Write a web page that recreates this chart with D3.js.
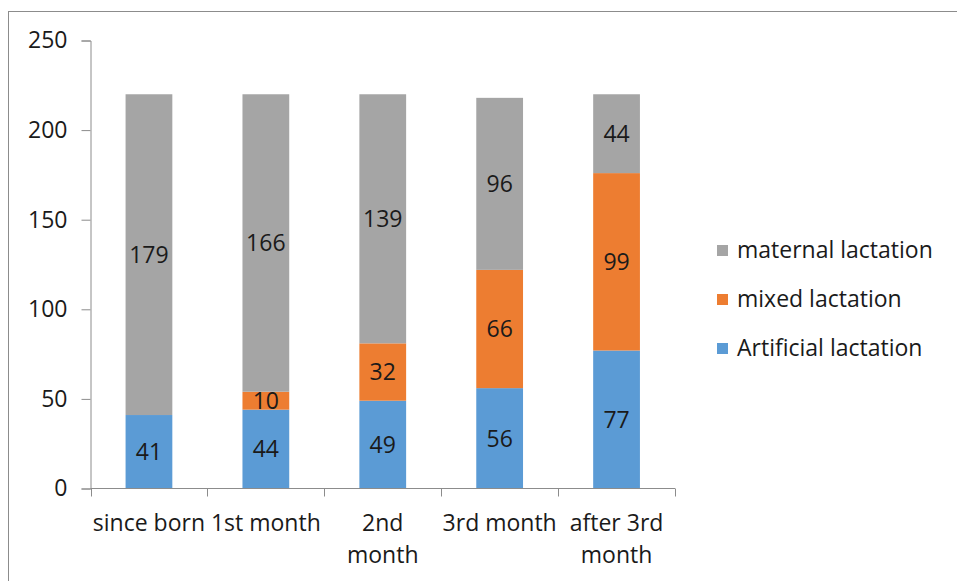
<!DOCTYPE html>
<html><head><meta charset="utf-8">
<script src="https://cdn.jsdelivr.net/npm/d3@7"></script>
<style>body{margin:0;background:#fff}svg{display:block}</style>
</head><body>
<svg id="c" width="957" height="581"></svg>
<script>
const categories = ["since born", "1st month", "2nd\nmonth", "3rd month", "after 3rd\nmonth"];
const artificial = [41, 44, 49, 56, 77];
const mixed = [0, 10, 32, 66, 99];
const maternal = [179, 166, 139, 96, 44];
const seriesNames = ["Artificial lactation", "mixed lactation", "maternal lactation"];
const seriesColors = ["#5B9BD5", "#ED7D31", "#A5A5A5"];
const yTicks = [0, 50, 100, 150, 200, 250];

const FONT = "'Open Sans', Roboto, sans-serif";
const FS = 23;
const svg = d3.select("#c");

svg.append("rect").attr("x", 8.5).attr("y", 11.5).attr("width", 960).attr("height", 600)
  .attr("fill", "#fff").attr("stroke", "#8c8c8c").attr("stroke-width", 1);

const y = d3.scaleLinear().domain([0, 250]).range([488.5, 40.5]);
const x = d3.scaleBand().domain(categories).range([90.5, 675]).paddingInner(0.6).paddingOuter(0.3);

const rows = categories.map((c, i) => ({cat: c, a: artificial[i], m: mixed[i], g: maternal[i]}));
const stack = d3.stack().keys(["a", "m", "g"])(rows);

// bars
stack.forEach((layer, li) => {
  svg.append("g").selectAll("rect").data(layer).join("rect")
    .attr("x", d => x(d.data.cat))
    .attr("width", x.bandwidth())
    .attr("y", d => y(d[1]))
    .attr("height", d => y(d[0]) - y(d[1]))
    .attr("fill", seriesColors[li]);
});

// data labels
stack.forEach((layer, li) => {
  svg.append("g").selectAll("text").data(layer.filter(d => d[1] - d[0] > 0)).join("text")
    .attr("x", d => x(d.data.cat) + x.bandwidth() / 2)
    .attr("y", d => y((d[0] + d[1]) / 2))
    .attr("dy", "0.36em")
    .attr("text-anchor", "middle")
    .attr("font-family", FONT).attr("font-size", FS).attr("fill", "#1a1a1a")
    .text(d => d[1] - d[0]);
});

// y axis
const yAxis = svg.append("g").attr("transform", "translate(90.5,0)")
  .call(d3.axisLeft(y).tickValues(yTicks).tickSize(9).tickPadding(14));
yAxis.select(".domain").attr("stroke", "#8c8c8c");
yAxis.selectAll(".tick line").attr("stroke", "#8c8c8c");
yAxis.selectAll(".tick text").attr("font-family", FONT).attr("font-size", FS).attr("fill", "#1a1a1a");

// x axis with boundary ticks
const xg = svg.append("g");
const [r0, r1] = x.range();
xg.append("line").attr("x1", r0).attr("x2", r1).attr("y1", y(0)).attr("y2", y(0)).attr("stroke", "#8c8c8c");
d3.range(categories.length + 1).forEach(i => {
  const xx = Math.round(r0 + i * x.step()) + 0.5;
  xg.append("line").attr("x1", xx).attr("x2", xx).attr("y1", y(0)).attr("y2", y(0) + 8).attr("stroke", "#8c8c8c");
});
categories.forEach(c => {
  const t = xg.append("text").attr("text-anchor", "middle")
    .attr("font-family", FONT).attr("font-size", FS).attr("fill", "#1a1a1a");
  c.split("\n").forEach((line, j) => {
    t.append("tspan").attr("x", x(c) + x.bandwidth() / 2).attr("y", 531 + j * 32).text(line);
  });
});

// legend
const legendOrder = [2, 1, 0];
const lg = svg.append("g");
legendOrder.forEach((si, k) => {
  const cy = 250 + k * 49;
  lg.append("rect").attr("x", 717).attr("y", cy - 5).attr("width", 11).attr("height", 11).attr("fill", seriesColors[si]);
  lg.append("text").attr("x", 737).attr("y", cy).attr("dy", "0.36em")
    .attr("font-family", FONT).attr("font-size", FS).attr("fill", "#1a1a1a").text(seriesNames[si]);
});
</script>
</body></html>
